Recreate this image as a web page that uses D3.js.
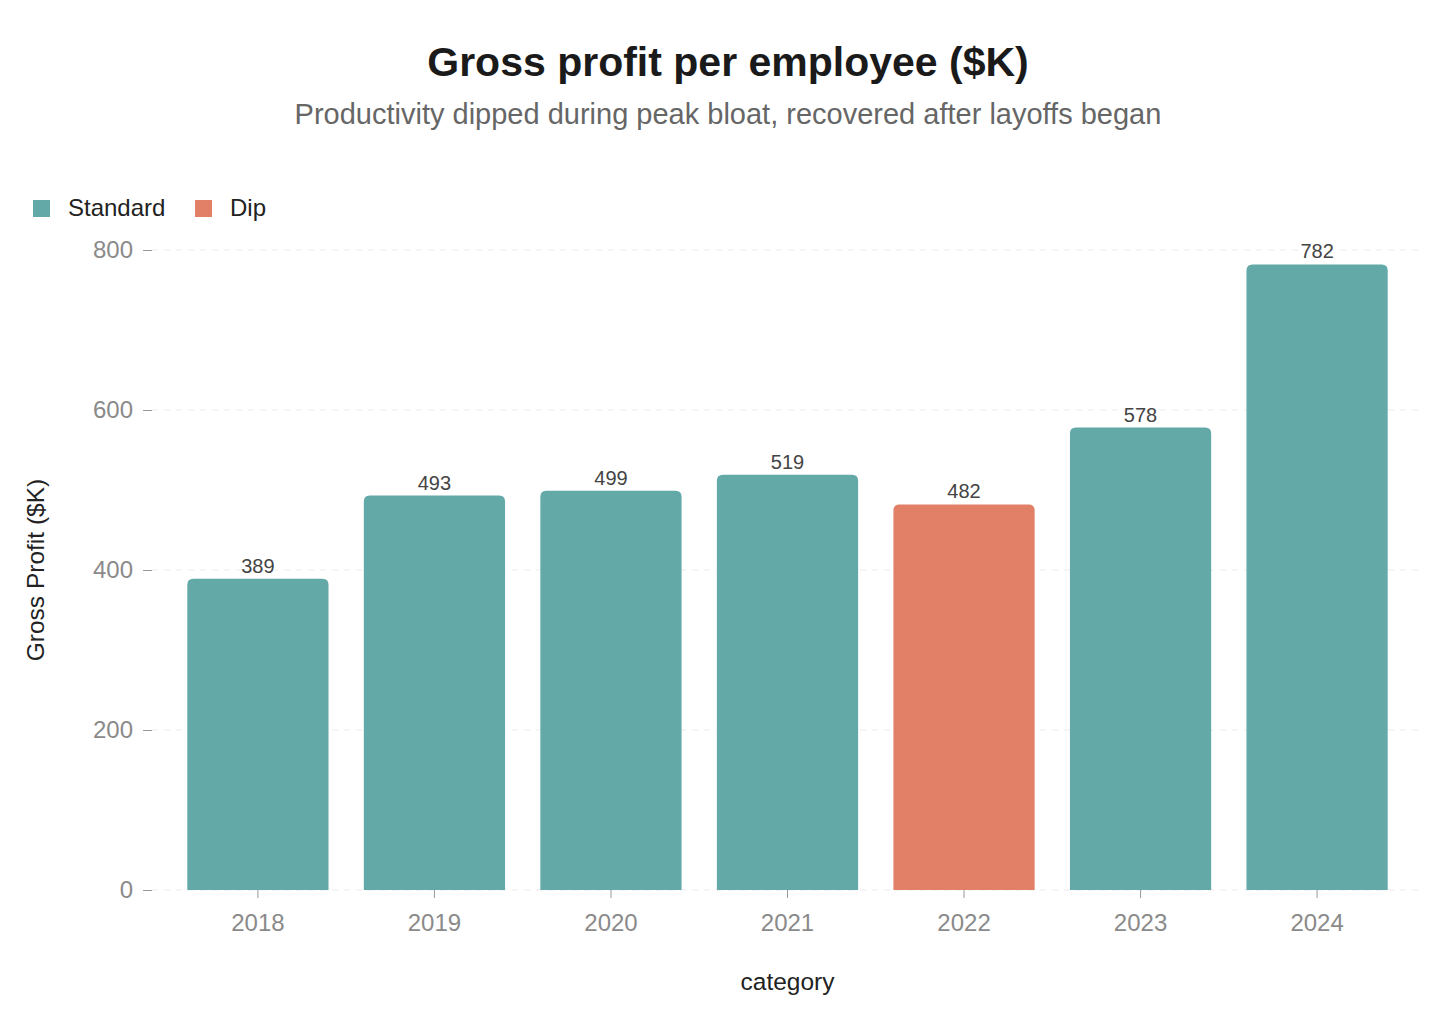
<!DOCTYPE html>
<html>
<head>
<meta charset="utf-8">
<style>
  body { margin: 0; background: #fff; font-family: "Liberation Sans", Arial, Helvetica, sans-serif; }
</style>
</head>
<body>
<div id="container"></div>
<script src="https://cdn.jsdelivr.net/npm/d3@7"></script>
<script>

// data
const years = ['2018', '2019', '2020', '2021', '2022', '2023', '2024'];
const profit = [389, 493, 499, 519, 482, 578, 782];
const kinds = ['Standard', 'Standard', 'Standard', 'Standard', 'Dip', 'Standard', 'Standard'];
const yTicks = [0, 200, 400, 600, 800];

const legendKeys = ['Standard', 'Dip'];
const palette = { 'Standard': '#62a9a7', 'Dip': '#e27f67' };

const width = 1456;
const height = 1032;
const margin = { top: 250, right: 33, bottom: 142, left: 152 };

const data = years.map((y, i) => ({ year: y, value: profit[i], kind: kinds[i] }));

const svg = d3.create('svg')
    .attr('width', width)
    .attr('height', height);

const x = d3.scaleBand()
    .domain(years)
    .range([margin.left, width - margin.right])
    .paddingInner(0.2)
    .paddingOuter(0.2);

const y = d3.scaleLinear()
    .domain([0, 800])
    .range([height - margin.bottom, margin.top]);

const color = d3.scaleOrdinal().domain(legendKeys).range(legendKeys.map(k => palette[k]));

// title + subtitle
svg.append('text')
    .attr('x', width / 2).attr('y', 76)
    .attr('text-anchor', 'middle')
    .attr('font-size', 41).attr('font-weight', 'bold')
    .attr('fill', '#1a1a1a')
    .text('Gross profit per employee ($K)');

svg.append('text')
    .attr('x', width / 2).attr('y', 124)
    .attr('text-anchor', 'middle')
    .attr('font-size', 29)
    .attr('fill', '#666')
    .text('Productivity dipped during peak bloat, recovered after layoffs began');

// grid lines
svg.append('g')
    .selectAll('line').data(yTicks).enter().append('line')
    .attr('x1', margin.left).attr('x2', width - margin.right)
    .attr('y1', d => y(d)).attr('y2', d => y(d))
    .attr('stroke', '#ebebeb')
    .attr('stroke-dasharray', '6,6');

// y axis
const yAxis = svg.append('g')
    .attr('transform', `translate(${margin.left},0)`)
    .call(d3.axisLeft(y).tickValues(yTicks).tickSize(9).tickPadding(10));
yAxis.select('.domain').remove();
yAxis.selectAll('line').attr('stroke', '#999');
yAxis.selectAll('text').attr('font-size', 24).attr('fill', '#8a8a8a').attr('font-family', 'inherit');

// x axis
const xAxis = svg.append('g')
    .attr('transform', `translate(0,${height - margin.bottom})`)
    .call(d3.axisBottom(x).tickSize(8).tickPadding(16));
xAxis.select('.domain').remove();
xAxis.selectAll('line').attr('stroke', '#999');
xAxis.selectAll('text').attr('font-size', 24).attr('fill', '#8a8a8a').attr('font-family', 'inherit');

// bars with rounded top corners
const r = 6;
function barPath(d) {
  const x0 = x(d.year), x1 = x0 + x.bandwidth();
  const y0 = y(d.value), y1 = y(0);
  return `M${x0},${y1} L${x0},${y0 + r} Q${x0},${y0} ${x0 + r},${y0} ` +
         `L${x1 - r},${y0} Q${x1},${y0} ${x1},${y0 + r} L${x1},${y1} Z`;
}

svg.append('g')
    .selectAll('path').data(data).enter().append('path')
    .attr('d', barPath)
    .attr('fill', d => color(d.kind));

// value labels
svg.append('g')
    .selectAll('text').data(data).enter().append('text')
    .attr('x', d => x(d.year) + x.bandwidth() / 2)
    .attr('y', d => y(d.value) - 6)
    .attr('text-anchor', 'middle')
    .attr('font-size', 20)
    .attr('fill', '#444')
    .text(d => d.value);

// axis titles
svg.append('text')
    .attr('x', (margin.left + width - margin.right) / 2)
    .attr('y', 990)
    .attr('text-anchor', 'middle')
    .attr('font-size', 24.5)
    .attr('fill', '#222')
    .text('category');

svg.append('text')
    .attr('transform', `translate(44,${(margin.top + height - margin.bottom) / 2}) rotate(-90)`)
    .attr('text-anchor', 'middle')
    .attr('font-size', 24.5)
    .attr('fill', '#222')
    .text('Gross Profit ($K)');

// legend
const legendX = [33, 195];
const legend = svg.append('g')
    .selectAll('g').data(legendKeys).enter().append('g')
    .attr('transform', (d, i) => `translate(${legendX[i]},200)`);
legend.append('rect')
    .attr('width', 17).attr('height', 17)
    .attr('fill', d => color(d));
legend.append('text')
    .attr('x', 35).attr('y', 16)
    .attr('font-size', 24)
    .attr('fill', '#222')
    .text(d => d);

container.append(svg.node());

</script>
</body>
</html>
